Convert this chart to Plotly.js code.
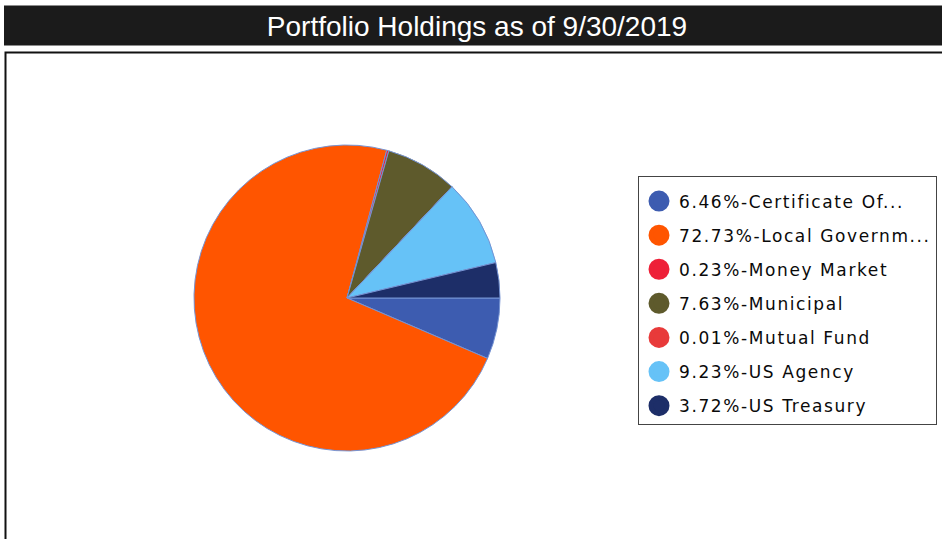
<!DOCTYPE html>
<html>
<head>
<meta charset="utf-8">
<script src="https://cdn.plot.ly/plotly-3.0.1.min.js"></script>
<style>
  html, body { margin: 0; padding: 0; background: #ffffff; }
  #chart { width: 942px; height: 539px; }
  .legendtext { letter-spacing: 1.6px; }
</style>
</head>
<body>
<div id="chart"></div>
<script>
// ---- data ----
const categories = ["Certificate Of...", "Local Governm...", "Money Market", "Municipal", "Mutual Fund", "US Agency", "US Treasury"];
const percents = [6.46, 72.73, 0.23, 7.63, 0.01, 9.23, 3.72];
const colors = ["#3d5cb0", "#ff5500", "#ee2038", "#5e5a2c", "#e83a3a", "#66c2f7", "#1d2e68"];
const chartTitle = "Portfolio Holdings as of 9/30/2019";

const W = 942, H = 539;
const px = v => v / W;
const py = v => 1 - v / H;

const legendLabels = categories.map((c, i) => percents[i].toFixed(2) + "%-" + c);

const pie = {
  type: "pie",
  values: percents,
  labels: legendLabels,
  sort: false,
  direction: "clockwise",
  rotation: 90,
  textinfo: "none",
  showlegend: false,
  marker: { colors: colors, line: { color: "#7593d3", width: 1 } },
  domain: { x: [px(194), px(500)], y: [py(451), py(145)] },
  hoverinfo: "label"
};

const legendTraces = categories.map((c, i) => ({
  type: "scatter",
  mode: "markers",
  x: [null],
  y: [null],
  name: legendLabels[i],
  legendgroup: "g" + i,
  showlegend: true,
  marker: { color: colors[i], size: 16, symbol: "circle", line: { color: colors[i], width: 5 } },
  hoverinfo: "skip"
}));

const layout = {
  width: W,
  height: H,
  margin: { l: 0, r: 0, t: 0, b: 0 },
  paper_bgcolor: "#ffffff",
  plot_bgcolor: "rgba(0,0,0,0)",
  xaxis: { visible: false },
  yaxis: { visible: false },
  title: {
    text: chartTitle,
    font: { family: "Liberation Sans, Arial, sans-serif", size: 28, color: "#ffffff" },
    x: 477 / W,
    xanchor: "center",
    y: py(26),
    yanchor: "middle",
    xref: "paper",
    yref: "paper"
  },
  showlegend: true,
  legend: {
    x: px(638),
    y: py(176),
    xanchor: "left",
    yanchor: "top",
    bgcolor: "#ffffff",
    bordercolor: "#444444",
    borderwidth: 1,
    traceorder: "grouped",
    tracegroupgap: 9,
    itemclick: false,
    itemdoubleclick: false,
    title: { text: " ", font: { size: 5 } },
    font: { family: "DejaVu Sans, Verdana, sans-serif", size: 17, color: "#0a0a0a" }
  },
  shapes: [
    { type: "rect", xref: "paper", yref: "paper", x0: px(4), x1: 1.01, y0: py(45.5), y1: py(5.5),
      fillcolor: "#1b1b1b", line: { width: 0 }, layer: "below" },
    { type: "rect", xref: "paper", yref: "paper", x0: px(5.5), x1: 1.02, y0: -0.02, y1: py(52.5),
      fillcolor: "rgba(0,0,0,0)", line: { color: "#111111", width: 2 }, layer: "below" }
  ]
};

Plotly.newPlot("chart", [pie].concat(legendTraces), layout, { displayModeBar: false, staticPlot: false });
</script>
</body>
</html>
